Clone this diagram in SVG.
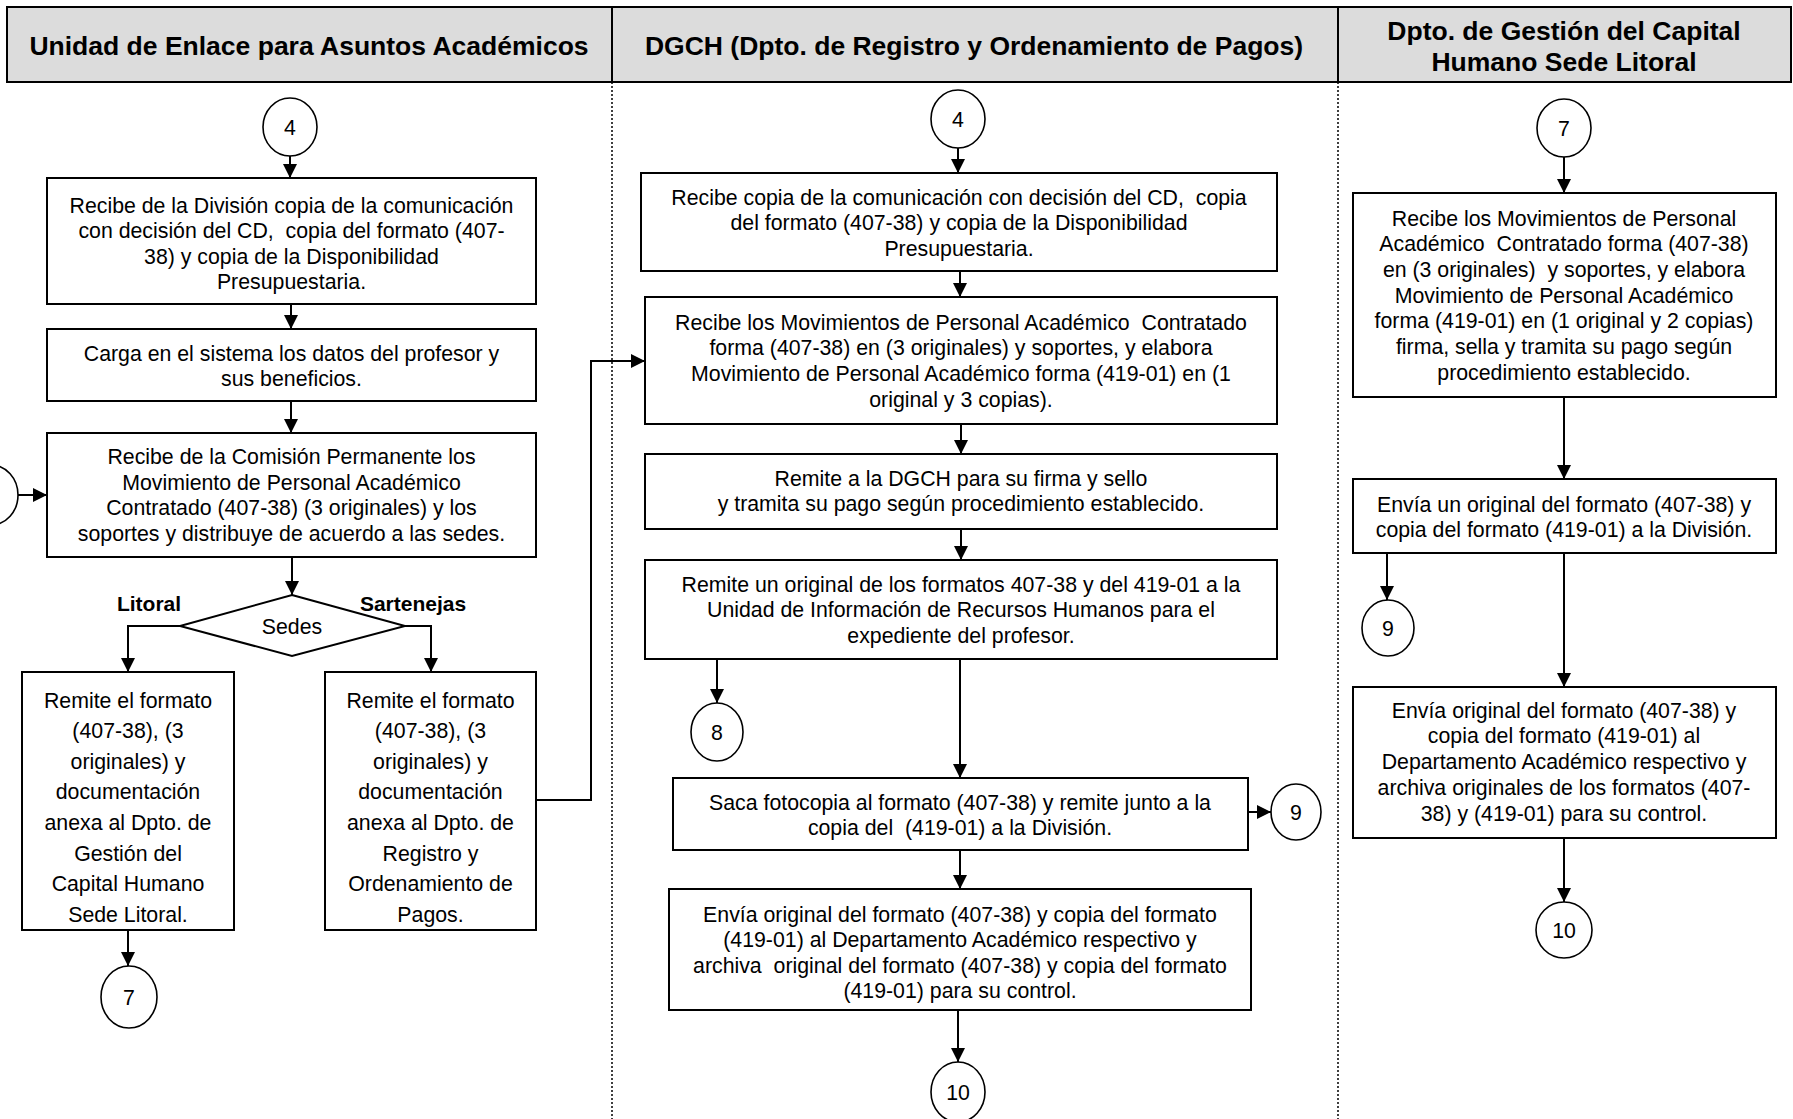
<svg xmlns="http://www.w3.org/2000/svg" width="1793" height="1119" viewBox="0 0 1793 1119">
<defs>
<marker id="ah" markerWidth="14" markerHeight="14" refX="14" refY="7" orient="auto" markerUnits="userSpaceOnUse">
<path d="M0,0 L14,7 L0,14 z" fill="#000"/>
</marker>
<style>
.box{fill:#fff;stroke:#000;stroke-width:2}
.circ{fill:#fff;stroke:#000;stroke-width:1.6}
.hdr{fill:#dcdcdc;stroke:#000;stroke-width:2}
.lane{stroke:#000;stroke-width:1.5;stroke-dasharray:2,2;fill:none}
.c{fill:none;stroke:#000;stroke-width:2}
.ca{fill:none;stroke:#000;stroke-width:2;marker-end:url(#ah)}
.t{font-family:"Liberation Sans",Arial,sans-serif;font-size:21.3px;text-anchor:middle;white-space:pre;fill:#000}
.b{font-family:"Liberation Sans",Arial,sans-serif;font-size:21px;font-weight:bold;text-anchor:middle;fill:#000}
.h{font-family:"Liberation Sans",Arial,sans-serif;font-size:26.5px;font-weight:bold;text-anchor:middle;fill:#000}
</style>
</defs>
<rect width="1793" height="1119" fill="#fff"/>

<g id="header">
<rect class="hdr" x="7" y="7" width="1784" height="75"/>
<line x1="612" y1="7" x2="612" y2="82" stroke="#000" stroke-width="2"/>
<line x1="1338" y1="7" x2="1338" y2="82" stroke="#000" stroke-width="2"/>
<text class="h" x="309" y="55">Unidad de Enlace para Asuntos Académicos</text>
<text class="h" x="974" y="55">DGCH (Dpto. de Registro y Ordenamiento de Pagos)</text>
<text class="h" x="1564" y="40">Dpto. de Gestión del Capital</text>
<text class="h" x="1564" y="71">Humano Sede Litoral</text>
</g>

<g id="lanes">
<line class="lane" x1="612" y1="82" x2="612" y2="1119"/>
<line class="lane" x1="1338" y1="82" x2="1338" y2="1119"/>
</g>

<g id="connectors">
<line class="ca" x1="290" y1="156" x2="290" y2="178"/>
<line class="ca" x1="291" y1="304" x2="291" y2="329"/>
<line class="ca" x1="291" y1="401" x2="291" y2="433"/>
<line class="ca" x1="18" y1="495" x2="47" y2="495"/>
<line class="ca" x1="292" y1="557" x2="292" y2="595"/>
<polyline class="ca" points="180,626 128,626 128,672"/>
<polyline class="ca" points="405,626 431,626 431,672"/>
<line class="ca" x1="128" y1="930" x2="128" y2="966"/>
<polyline class="ca" points="536,800 591,800 591,361 645,361"/>
<line class="ca" x1="958" y1="148" x2="958" y2="173"/>
<line class="ca" x1="960" y1="271" x2="960" y2="297"/>
<line class="ca" x1="961" y1="424" x2="961" y2="454"/>
<line class="ca" x1="961" y1="529" x2="961" y2="560"/>
<line class="ca" x1="717" y1="659" x2="717" y2="703"/>
<line class="ca" x1="960" y1="659" x2="960" y2="778"/>
<line class="ca" x1="1248" y1="812" x2="1271" y2="812"/>
<line class="ca" x1="960" y1="850" x2="960" y2="889"/>
<line class="ca" x1="958" y1="1010" x2="958" y2="1062"/>
<line class="ca" x1="1564" y1="157" x2="1564" y2="193"/>
<line class="ca" x1="1564" y1="397" x2="1564" y2="479"/>
<line class="ca" x1="1387" y1="553" x2="1387" y2="600"/>
<line class="ca" x1="1564" y1="553" x2="1564" y2="687"/>
<line class="ca" x1="1564" y1="838" x2="1564" y2="902"/>
</g>

<g id="c4a"><ellipse class="circ" cx="290" cy="127" rx="27" ry="29"/><text class="t" x="290" y="134.5">4</text></g>
<g id="cleft"><ellipse class="circ" cx="-9" cy="495" rx="27" ry="30"/></g>
<g id="l1"><rect class="box" x="47" y="178" width="489" height="126"/>
<text class="t" x="291.5" y="212.5">Recibe de la División copia de la comunicación<tspan x="291.5" dy="25.5">con decisión del CD,  copia del formato (407-</tspan><tspan x="291.5" dy="25.5">38) y copia de la Disponibilidad</tspan><tspan x="291.5" dy="25.5">Presupuestaria.</tspan></text></g>
<g id="l2"><rect class="box" x="47" y="329" width="489" height="72"/>
<text class="t" x="291.5" y="360.5">Carga en el sistema los datos del profesor y<tspan x="291.5" dy="25.5">sus beneficios.</tspan></text></g>
<g id="l3"><rect class="box" x="47" y="433" width="489" height="124"/>
<text class="t" x="291.5" y="464">Recibe de la Comisión Permanente los<tspan x="291.5" dy="25.7">Movimiento de Personal Académico</tspan><tspan x="291.5" dy="25.7">Contratado (407-38) (3 originales) y los</tspan><tspan x="291.5" dy="25.7">soportes y distribuye de acuerdo a las sedes.</tspan></text></g>
<g id="sedes"><polygon class="box" points="292,595 405,626 292,656 180,626"/>
<text class="t" x="292" y="634">Sedes</text>
<text class="b" x="149" y="611">Litoral</text>
<text class="b" x="413" y="611">Sartenejas</text></g>
<g id="llit"><rect class="box" x="22" y="672" width="212" height="258"/>
<text class="t" x="128" y="707.5">Remite el formato<tspan x="128" dy="30.6">(407-38), (3</tspan><tspan x="128" dy="30.6">originales) y</tspan><tspan x="128" dy="30.6">documentación</tspan><tspan x="128" dy="30.6">anexa al Dpto. de</tspan><tspan x="128" dy="30.6">Gestión del</tspan><tspan x="128" dy="30.6">Capital Humano</tspan><tspan x="128" dy="30.6">Sede Litoral.</tspan></text></g>
<g id="lsar"><rect class="box" x="325" y="672" width="211" height="258"/>
<text class="t" x="430.5" y="707.5">Remite el formato<tspan x="430.5" dy="30.6">(407-38), (3</tspan><tspan x="430.5" dy="30.6">originales) y</tspan><tspan x="430.5" dy="30.6">documentación</tspan><tspan x="430.5" dy="30.6">anexa al Dpto. de</tspan><tspan x="430.5" dy="30.6">Registro y</tspan><tspan x="430.5" dy="30.6">Ordenamiento de</tspan><tspan x="430.5" dy="30.6">Pagos.</tspan></text></g>
<g id="c7a"><ellipse class="circ" cx="129" cy="997" rx="28" ry="31"/><text class="t" x="129" y="1004.5">7</text></g>

<g id="c4b"><ellipse class="circ" cx="958" cy="119" rx="27" ry="29"/><text class="t" x="958" y="126.5">4</text></g>
<g id="m1"><rect class="box" x="641" y="173" width="636" height="98"/>
<text class="t" x="959" y="204.5">Recibe copia de la comunicación con decisión del CD,  copia<tspan x="959" dy="25.5">del formato (407-38) y copia de la Disponibilidad</tspan><tspan x="959" dy="25.5">Presupuestaria.</tspan></text></g>
<g id="m2"><rect class="box" x="645" y="297" width="632" height="127"/>
<text class="t" x="961" y="329.5">Recibe los Movimientos de Personal Académico  Contratado<tspan x="961" dy="25.7">forma (407-38) en (3 originales) y soportes, y elabora</tspan><tspan x="961" dy="25.7">Movimiento de Personal Académico forma (419-01) en (1</tspan><tspan x="961" dy="25.7">original y 3 copias).</tspan></text></g>
<g id="m3"><rect class="box" x="645" y="454" width="632" height="75"/>
<text class="t" x="961" y="485.5">Remite a la DGCH para su firma y sello<tspan x="961" dy="25.5">y tramita su pago según procedimiento establecido.</tspan></text></g>
<g id="m4"><rect class="box" x="645" y="560" width="632" height="99"/>
<text class="t" x="961" y="591.5">Remite un original de los formatos 407-38 y del 419-01 a la<tspan x="961" dy="25.5">Unidad de Información de Recursos Humanos para el</tspan><tspan x="961" dy="25.5">expediente del profesor.</tspan></text></g>
<g id="c8"><ellipse class="circ" cx="717" cy="732" rx="26" ry="29"/><text class="t" x="717" y="739.5">8</text></g>
<g id="m5"><rect class="box" x="673" y="778" width="575" height="72"/>
<text class="t" x="960" y="809.5">Saca fotocopia al formato (407-38) y remite junto a la<tspan x="960" dy="25.5">copia del  (419-01) a la División.</tspan></text></g>
<g id="c9a"><ellipse class="circ" cx="1296" cy="812" rx="25" ry="28"/><text class="t" x="1296" y="819.5">9</text></g>
<g id="m6"><rect class="box" x="669" y="889" width="582" height="121"/>
<text class="t" x="960" y="921.5">Envía original del formato (407-38) y copia del formato<tspan x="960" dy="25.5">(419-01) al Departamento Académico respectivo y</tspan><tspan x="960" dy="25.5">archiva  original del formato (407-38) y copia del formato</tspan><tspan x="960" dy="25.5">(419-01) para su control.</tspan></text></g>
<g id="c10a"><ellipse class="circ" cx="958" cy="1092" rx="27" ry="30"/><text class="t" x="958" y="1099.5">10</text></g>

<g id="c7b"><ellipse class="circ" cx="1564" cy="128" rx="27" ry="29"/><text class="t" x="1564" y="135.5">7</text></g>
<g id="r1"><rect class="box" x="1353" y="193" width="423" height="204"/>
<text class="t" x="1564" y="225.5">Recibe los Movimientos de Personal<tspan x="1564" dy="25.7">Académico  Contratado forma (407-38)</tspan><tspan x="1564" dy="25.7">en (3 originales)  y soportes, y elabora</tspan><tspan x="1564" dy="25.7">Movimiento de Personal Académico</tspan><tspan x="1564" dy="25.7">forma (419-01) en (1 original y 2 copias)</tspan><tspan x="1564" dy="25.7">firma, sella y tramita su pago según</tspan><tspan x="1564" dy="25.7">procedimiento establecido.</tspan></text></g>
<g id="r2"><rect class="box" x="1353" y="479" width="423" height="74"/>
<text class="t" x="1564" y="511.5">Envía un original del formato (407-38) y<tspan x="1564" dy="25.5">copia del formato (419-01) a la División.</tspan></text></g>
<g id="c9b"><ellipse class="circ" cx="1388" cy="628" rx="26" ry="28"/><text class="t" x="1388" y="635.5">9</text></g>
<g id="r3"><rect class="box" x="1353" y="687" width="423" height="151"/>
<text class="t" x="1564" y="717.5">Envía original del formato (407-38) y<tspan x="1564" dy="25.8">copia del formato (419-01) al</tspan><tspan x="1564" dy="25.8">Departamento Académico respectivo y</tspan><tspan x="1564" dy="25.8">archiva originales de los formatos (407-</tspan><tspan x="1564" dy="25.8">38) y (419-01) para su control.</tspan></text></g>
<g id="c10b"><ellipse class="circ" cx="1564" cy="930" rx="28" ry="28"/><text class="t" x="1564" y="937.5">10</text></g>
</svg>
